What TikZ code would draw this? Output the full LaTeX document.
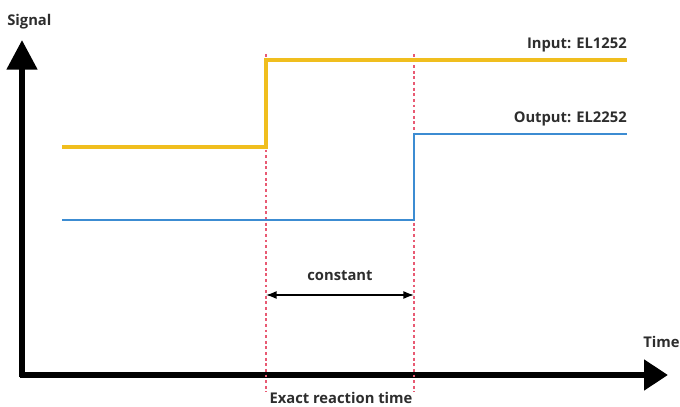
\documentclass[tikz,border=0pt]{standalone}
\usepackage{fontspec}
\setmainfont{Open Sans}
\usepackage{tikz}
\usetikzlibrary{arrows.meta,calc,positioning}
\definecolor{InputYellow}{RGB}{240,190,30}
\definecolor{OutputBlue}{RGB}{60,140,210}
\definecolor{MarkRed}{RGB}{232,90,115}
\definecolor{LabelGray}{RGB}{45,45,45}

\begin{document}
\begin{tikzpicture}[x=0.025cm,y=-0.025cm,>=Latex,
    lbl/.style={text=LabelGray,font=\bfseries\fontsize{10.5}{12}\selectfont,inner sep=0pt}]
      \useasboundingbox (0,0) rectangle (680,407);
      % axes
      \coordinate (origin) at (22,375);
      \coordinate (ytip) at (22,40);
      \coordinate (xtip) at (668,375);
      \draw[line width=4.2pt,-{Triangle[length=21pt,width=21pt]}] (22,377.1)--(ytip);
      \draw[line width=4.2pt,-{Triangle[length=17pt,width=21pt]}] (19.9,375)--(xtip);
      \node[lbl,anchor=west] (signal) at (7,22) {Signal};
      \node[lbl,anchor=west] (time) at (643,342) {Time};
      % event markers
      \foreach \x/\n in {266/a,414/b}{
        \coordinate (top\n) at (\x,54);
        \coordinate (bot\n) at (\x,392);
        \draw[MarkRed,line width=0.8pt,dash pattern=on 2pt off 2pt] (top\n)--(bot\n);
      }
      % signals
      \draw[InputYellow,line width=2.2pt] (62,147)--(266,147)--(266,60)--(627,60);
      \draw[OutputBlue,line width=1.6pt] (62,220)--(414,220)--(414,134)--(627,134);
      \node[lbl,anchor=south east] (input) at (627,52) {Input: EL1252};
      \node[lbl,anchor=south east] (output) at (627,126) {Output: EL2252};
      % reaction time
      \coordinate (arrL) at (266,295);
      \coordinate (arrR) at (414,295);
      \draw[<->,line width=1pt] (arrL)--(arrR);
      \node[lbl,above=10pt of $(arrL)!0.5!(arrR)$] (const) {constant};
      \node[lbl] (exact) at (341,398) {Exact reaction time};
    \end{tikzpicture}
\end{document}
